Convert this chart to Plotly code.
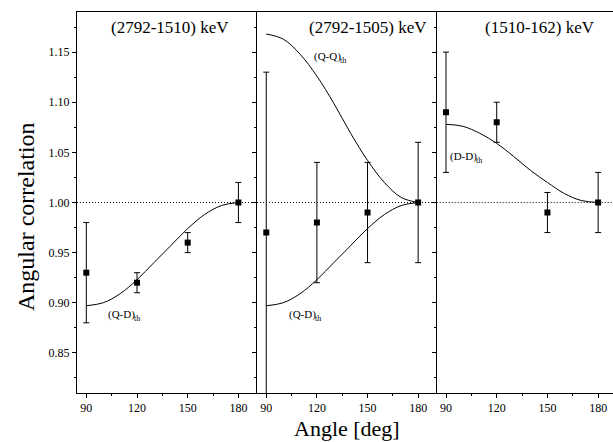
import plotly.graph_objects as go

# ---- data ----
angles = [90, 120, 150, 180]

p1_vals = [0.93, 0.92, 0.96, 1.00]
p1_err = [0.05, 0.01, 0.01, 0.02]

p2_vals = [0.97, 0.98, 0.99, 1.00]
p2_err_plus = [0.16, 0.06, 0.05, 0.06]
p2_err_minus = [0.20, 0.06, 0.05, 0.06]

p3_vals = [1.09, 1.08, 0.99, 1.00]
p3_err = [0.06, 0.02, 0.02, 0.03]

curve_angles = [90, 100, 110, 120, 130, 140, 150, 160, 170, 180]
qd_th = [0.897, 0.900, 0.909, 0.923, 0.940, 0.957, 0.974, 0.988, 0.997, 1.000]
qq_th = [1.168, 1.163, 1.148, 1.126, 1.099, 1.069, 1.042, 1.020, 1.005, 1.000]
dd_th = [1.078, 1.076, 1.069, 1.059, 1.046, 1.032, 1.020, 1.009, 1.002, 1.000]

panel_titles = ["(2792-1510) keV", "(2792-1505) keV", "(1510-162) keV"]
x_ticks = [90, 120, 150, 180]
y_ticks = [0.85, 0.90, 0.95, 1.00, 1.05, 1.10, 1.15]

# ---- figure ----
SERIF = "Liberation Serif"
fig = go.Figure()

def add_points(xa, ya, vals, ep, em):
    fig.add_trace(go.Scatter(
        x=angles, y=vals, mode="markers", xaxis=xa, yaxis=ya,
        marker=dict(symbol="square", size=6, color="black"),
        error_y=dict(type="data", array=ep, arrayminus=em, symmetric=False,
                     color="black", thickness=1, width=3),
        showlegend=False, hoverinfo="skip"))

def add_curve(xa, ya, vals):
    fig.add_trace(go.Scatter(
        x=curve_angles, y=vals, mode="lines", xaxis=xa, yaxis=ya,
        line=dict(color="black", width=1, shape="spline"),
        showlegend=False, hoverinfo="skip"))

add_curve("x", "y", qd_th)
add_points("x", "y", p1_vals, p1_err, p1_err)
add_curve("x2", "y2", qq_th)
add_curve("x2", "y2", qd_th)
add_points("x2", "y2", p2_vals, p2_err_plus, p2_err_minus)
add_curve("x3", "y3", dd_th)
add_points("x3", "y3", p3_vals, p3_err, p3_err)

L, T, B = 77, 12, 49
PW = 613 - L
PH = 442 - T - B
d1 = (257 - L) / PW
d2 = (436.7 - L) / PW
domains = [[0, d1], [d1, d2], [d2, 1.0]]
xranges = [[84.5, 191], [84.5, 191], [84.5, 188.8]]
yrange = [0.81, 1.19]

tickfont = dict(family=SERIF, size=12, color="black")
for i in range(3):
    sfx = "" if i == 0 else str(i + 1)
    fig.layout["xaxis" + sfx] = dict(
        domain=domains[i], range=xranges[i], anchor="y" + sfx,
        tickmode="array", tickvals=x_ticks, ticktext=[str(t) for t in x_ticks],
        ticks="outside", ticklen=4, tickcolor="black", tickwidth=1,
        minor=dict(dtick=15, tick0=90, ticks="outside", ticklen=2, tickcolor="black"),
        showline=True, linecolor="black", linewidth=1, mirror=True,
        showgrid=False, zeroline=False, tickfont=tickfont, automargin=False)
    fig.layout["yaxis" + sfx] = dict(
        domain=[0, 1], range=yrange, anchor="x" + sfx,
        tickmode="array", tickvals=y_ticks,
        ticktext=[f"{t:.2f}" for t in y_ticks],
        showticklabels=(i == 0),
        ticks="outside", ticklen=4, tickcolor="black", tickwidth=1,
        minor=dict(dtick=0.025, tick0=0.8, ticks="outside", ticklen=2, tickcolor="black"),
        showline=True, linecolor="black", linewidth=1,
        showgrid=False, zeroline=False, tickfont=tickfont, automargin=False)
    # dotted reference line at 1.0
    fig.add_shape(type="line", xref=("x" + sfx) + " domain", yref="y" + sfx,
                  x0=0, x1=1, y0=1.0, y1=1.0,
                  line=dict(color="black", width=1, dash="1px,2px"))

title_x = [139.5, 150.2, 145.6]
for i, t in enumerate(panel_titles):
    sfx = "" if i == 0 else str(i + 1)
    fig.add_annotation(x=title_x[i], y=1.175, xref="x" + sfx, yref="y" + sfx,
                       text=t, showarrow=False, xanchor="center", yanchor="middle",
                       font=dict(family=SERIF, size=17, color="black"))

# theory-curve labels: main text plus a smaller "th" subscript
lab_font = dict(family=SERIF, size=11, color="black")
sub_font = dict(family=SERIF, size=8, color="black")
for xa, ya, x, y, txt in [("x", "y", 120.0, 0.888, "(Q-D)"),
                          ("x2", "y2", 135.2, 1.146, "(Q-Q)"),
                          ("x2", "y2", 120.6, 0.888, "(Q-D)"),
                          ("x3", "y3", 109.5, 1.046, "(D-D)")]:
    fig.add_annotation(x=x, y=y, xref=xa, yref=ya, text=txt, showarrow=False,
                       xanchor="right", yanchor="middle", font=lab_font)
    fig.add_annotation(x=x, y=y, xref=xa, yref=ya, text="th", showarrow=False,
                       xanchor="left", yanchor="middle", yshift=-4, xshift=-5,
                       font=sub_font)

# axis titles, placed by pixel position converted to paper coordinates
fig.add_annotation(x=(26 - L) / PW, y=(442 - B - 217) / PH, xref="paper", yref="paper",
                   text="Angular correlation", showarrow=False, textangle=-90,
                   xanchor="center", yanchor="middle",
                   font=dict(family=SERIF, size=24, color="black"))
fig.add_annotation(x=(347 - L) / PW, y=(442 - B - 428) / PH, xref="paper", yref="paper",
                   text="Angle [deg]", showarrow=False,
                   xanchor="center", yanchor="middle",
                   font=dict(family=SERIF, size=22, color="black"))

fig.update_layout(width=613, height=442,
                  margin=dict(l=L, r=0, t=T, b=B),
                  paper_bgcolor="white", plot_bgcolor="white")

fig.write_html("out.html", config={"displayModeBar": False},
               post_script="document.body.style.margin='0px';")
